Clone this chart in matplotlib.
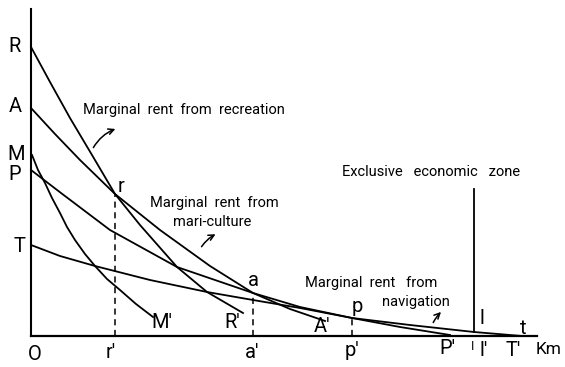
import matplotlib
matplotlib.use("Agg")
import matplotlib.pyplot as plt

plt.rcParams['font.family'] = ['Roboto', 'DejaVu Sans']

# marginal rent curves: distance from shore (x) and rent (y)
rec_x = [0, 19, 39, 61, 84, 109, 146, 176, 212]
rec_y = [289, 254, 218, 181, 142, 111, 69, 44, 23]

mari_x = [0, 24, 49, 84, 129, 179, 222, 259, 294]
mari_y = [228, 202, 176, 142, 106, 70, 43, 27, 15]

min_x = [1, 7, 14, 21, 29, 36, 44, 54, 64, 76, 89, 105, 122]
min_y = [181, 166, 153, 138, 123, 109, 96, 82, 70, 57, 46, 32, 19]

pet_x = [0, 30, 79, 146, 222, 269, 321, 369, 419]
pet_y = [166, 143, 106, 69, 43, 29, 18, 9, 1]

nav_x = [0, 29, 64, 119, 176, 222, 269, 321, 379, 443, 491]
nav_y = [91, 80, 70, 56, 44, 36, 28, 18, 11, 4, 0]

# switching points on the rent envelope
switch_x = [84, 222, 321]
switch_y = [142, 43, 18]

eez_x = 443
eez_top = 147

fig = plt.figure(figsize=(5.65, 3.67), dpi=100)
ax = fig.add_axes([0, 0, 1, 1])
ax.set_xlim(-31, 534)
ax.set_ylim(-31, 336)
ax.axis('off')

# axes
ax.plot([0, 0], [0, 327], color='k', lw=1.5)
ax.plot([0, 506], [0, 0], color='k', lw=1.6)

lw = 1.3
for xs, ys in [(rec_x, rec_y), (mari_x, mari_y), (min_x, min_y),
               (pet_x, pet_y), (nav_x, nav_y)]:
    ax.plot(xs, ys, color='k', lw=lw, solid_joinstyle='round')

for sx, sy in zip(switch_x, switch_y):
    ax.plot([sx, sx], [0, sy], color='k', lw=1.1, ls=(0, (4, 3)))

# exclusive economic zone boundary
ax.plot([eez_x, eez_x], [nav_y[nav_x.index(eez_x)], eez_top], color='k', lw=1.3)

big = dict(fontsize=14.5, ha='center', va='center')
ax.text(-16, rec_y[0], 'R', **big)
ax.text(-16, mari_y[0] + 1, 'A', **big)
ax.text(-15, 182, 'M', **big)
ax.text(-16, 162, 'P', **big)
ax.text(-12, nav_y[0] - 2, 'T', **big)

ax.text(4, -19, 'O', **big)
ax.text(80, -16, "r'", **big)
ax.text(221, -16, "a'", **big)
ax.text(321, -14, "p'", **big)
ax.text(416, -13, "P'", **big)
ax.text(442, -11, "I", fontsize=9, ha='center', va='center')
ax.text(453, -14, "l'", **big)
ax.text(482, -14, "T'", **big)
ax.text(505, -14, "Km", fontsize=12.5, ha='left', va='center')

ax.text(90, 149, 'r', **big)
ax.text(222, 55, 'a', **big)
ax.text(326, 29, 'p', **big)
ax.text(131, 13, "M'", **big)
ax.text(201, 13, "R'", **big)
ax.text(291, 9, "A'", **big)
ax.text(451, 18, 'l', **big)
ax.text(492, 8, 't', **big)

small = dict(fontsize=10.5, va='center')
ax.text(52, 226, 'Marginal  rent  from  recreation', **small)
ax.text(119, 133, 'Marginal  rent  from', **small)
ax.text(142, 114, 'mari-culture', **small)
ax.text(311, 164, 'Exclusive   economic   zone', **small)
ax.text(274, 53, 'Marginal  rent   from', **small)
ax.text(351, 34, 'navigation', **small)

arrow = dict(arrowstyle='->', color='k', lw=1.1, mutation_scale=10)
ax.annotate('', xy=(87, 208), xytext=(61, 186),
            arrowprops=dict(connectionstyle='arc3,rad=-0.2', **arrow))
ax.annotate('', xy=(187, 103), xytext=(169, 87),
            arrowprops=dict(connectionstyle='arc3,rad=-0.15', **arrow))
ax.annotate('', xy=(412, 26), xytext=(401, 11),
            arrowprops=dict(connectionstyle='arc3,rad=-0.1', **arrow))

fig.savefig('out.png', dpi=100)
